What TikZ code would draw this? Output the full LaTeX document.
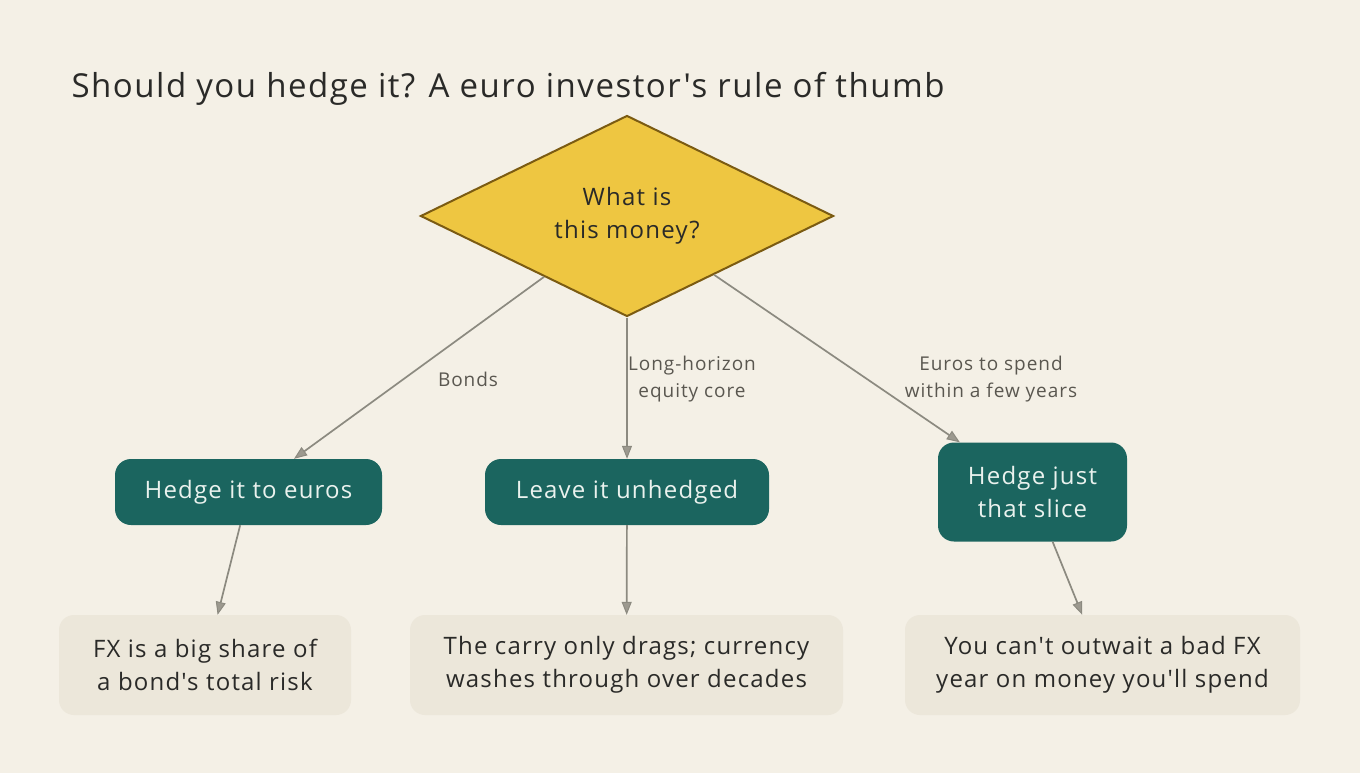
\documentclass[tikz,border=0pt]{standalone}
\usepackage{fontspec}
\setmainfont{Open Sans}[Ligatures=TeXOff]
\usetikzlibrary{shapes.geometric,arrows.meta,calc}
\definecolor{bg}{HTML}{F4F0E6}
\definecolor{teal}{HTML}{1B655F}
\definecolor{tealtext}{HTML}{EAF2EE}
\definecolor{gold}{HTML}{EEC641}
\definecolor{goldline}{HTML}{7B5B12}
\definecolor{note}{HTML}{ECE7DA}
\definecolor{ink}{HTML}{2A2A28}
\definecolor{lab}{HTML}{5A5750}
\definecolor{arr}{HTML}{8C8A80}
\definecolor{tipfill}{HTML}{9C998F}
\tikzset{
  bodyfont/.style={font=\fontsize{24}{33}\selectfont\addfontfeatures{LetterSpace=5}},
  decision/.style={diamond, draw=goldline, line width=2pt, fill=gold, inner sep=0pt,
    minimum width=413pt, minimum height=201pt, aspect=2.05, text=ink, align=center, bodyfont},
  action/.style={rounded corners=16pt, fill=teal, text=tealtext, align=center,
    bodyfont, inner sep=0pt},
  notebox/.style={rounded corners=15pt, fill=note, text=ink, align=center,
    bodyfont, inner sep=0pt, minimum height=100pt},
  edgelab/.style={text=lab, align=center, font=\fontsize{19}{27}\selectfont\addfontfeatures{LetterSpace=5}},
  conn/.style={draw=arr, line width=1.7pt,
    -{Triangle[length=13pt,width=10pt,fill=tipfill,line width=1pt]}},
}
\begin{document}
\begin{tikzpicture}[x=1pt,y=-1pt]
\fill[bg] (0,0) rectangle (1360,773);
\useasboundingbox (0,0) rectangle (1360,773);
\node[anchor=west, text=ink, font=\fontsize{33}{38}\selectfont\addfontfeatures{LetterSpace=4.6}] (title) at (68,89) {Should you hedge it? A euro investor's rule of thumb};
\node[decision] (d) at (627,216) {What is\\this money?};
\node[action, minimum width=267pt, minimum height=66pt] (h1) at (248.5,492) {Hedge it to euros};
\node[action, minimum width=284pt, minimum height=66pt] (h2) at (627,492) {Leave it unhedged};
\node[action, minimum width=189pt, minimum height=99pt] (h3) at (1032.5,492) {Hedge just\\that slice};
\node[notebox, minimum width=292pt] (b1) at (205,665) {FX is a big share of\\a bond's total risk};
\node[notebox, minimum width=433pt] (b2) at (626.5,665) {The carry only drags; currency\\washes through over decades};
\node[notebox, minimum width=395pt] (b3) at (1102.5,665) {You can't outwait a bad FX\\year on money you'll spend};
\coordinate (sl) at ($(d.west)!0.6!(d.south)$);
\coordinate (sr) at ($(d.east)!0.58!(d.south)$);
\draw[conn] (sl) -- (h1);
\draw[conn] (d.south) -- (h2);
\draw[conn] (sr) -- (h3);
\node[edgelab] (l1) at (468,379) {Bonds};
\node[edgelab] (l2) at (692,379) {Long-horizon\\equity core};
\node[edgelab] (l3) at (991,379) {Euros to spend\\within a few years};
\draw[conn] (h1) -- (b1);
\draw[conn] (h2) -- (b2);
\draw[conn] (h3) -- (b3);
\end{tikzpicture}
\end{document}
